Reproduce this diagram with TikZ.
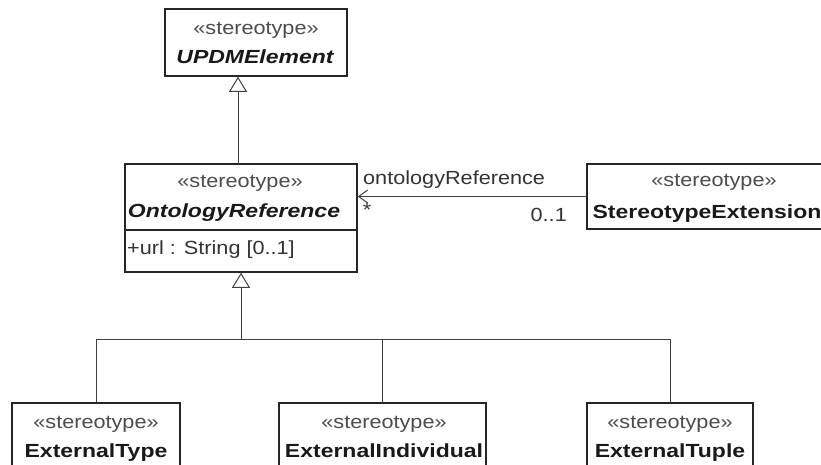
\documentclass[tikz,border=0pt]{standalone}
\usepackage{fontspec}
\setmainfont{Liberation Sans}[FakeStretch=1.14]
\newfontfamily\namefont{Liberation Sans}[FakeStretch=1.21]
\usetikzlibrary{arrows.meta}
\begin{document}
\begin{tikzpicture}[x=1bp,y=-1bp,
  box/.style={draw=black!85, line width=1.6bp, fill=white, inner sep=0pt},
  ster/.style={font=\fontsize{19bp}{21bp}\selectfont, text=black!70, inner sep=0pt, anchor=base},
  cname/.style={font=\fontsize{19bp}{21bp}\selectfont\namefont\bfseries, text=black!90, inner sep=0pt, anchor=base},
  iname/.style={font=\fontsize{19bp}{21bp}\selectfont\namefont\bfseries\itshape, text=black!90, inner sep=0pt, anchor=base},
  plain/.style={font=\fontsize{19bp}{21bp}\selectfont, text=black!80, inner sep=0pt},
  conn/.style={draw=black!75, line width=1bp},
  gen/.style={conn, -{Triangle[length=15bp,width=18bp,fill=white,line width=1bp]}},
  assoc/.style={conn, -{Straight Barb[length=9bp,width=13bp,line width=1bp]}}
]
\clip (0,0) rectangle (821,465);
\fill[white] (0,0) rectangle (821,465);

% boxes
\node[box, minimum width=182bp, minimum height=67bp] (upd) at (256,42.5) {};
\node[ster] (updS) at (256,35) {«stereotype»};
\node[iname] (updN) at (255,64) {UPDMElement};

\node[box, minimum width=232bp, minimum height=108bp] (ont) at (241,218) {};
\node[ster] (ontS) at (240,188) {«stereotype»};
\node[iname] (ontN) at (234,218) {OntologyReference};
\coordinate (dv) at (0,230);
\draw[draw=black!85, line width=1.3bp] (ont.west |- dv) -- (ont.east |- dv);
\node[plain, anchor=base west] (ontA) at (127,255) {+url : String [0..1]};

\node[box, minimum width=238bp, minimum height=65bp] (se) at (706,196.5) {};
\node[ster] (seS) at (714,187) {«stereotype»};
\node[cname] (seN) at (707,219) {StereotypeExtension};

\node[box, minimum width=168bp, minimum height=77bp] (et) at (96,441.5) {};
\node[ster] (etS) at (96,428) {«stereotype»};
\node[cname] (etN) at (96,457) {ExternalType};

\node[box, minimum width=207bp, minimum height=77bp] (ei) at (382.5,441.5) {};
\node[ster] (eiS) at (384,428) {«stereotype»};
\node[cname] (eiN) at (384,457) {ExternalIndividual};

\node[box, minimum width=166bp, minimum height=77bp] (tu) at (670,441.5) {};
\node[ster] (tuS) at (670,428) {«stereotype»};
\node[cname] (tuN) at (670,457) {ExternalTuple};

% generalization UPDMElement <- OntologyReference
\coordinate (g1) at (238,164);
\draw[gen] (g1) -- (g1 |- upd.south);

% generalization tree
\coordinate (bus) at (241,340);
\draw[conn] (et.north) -- (et.north |- bus) -- (tu.north |- bus) -- (tu.north);
\draw[conn] (ei.north) -- (ei.north |- bus);
\draw[gen] (bus) -- (ont.south);

% association
\draw[assoc] (se.west) -- (se.west -| ont.east);
\node[plain, anchor=base west] (aL) at (363,185) {ontologyReference};
\node[plain] (aM1) at (367,210) {*};
\node[plain, anchor=base east] (aM2) at (567,222) {0..1};
\end{tikzpicture}
\end{document}
